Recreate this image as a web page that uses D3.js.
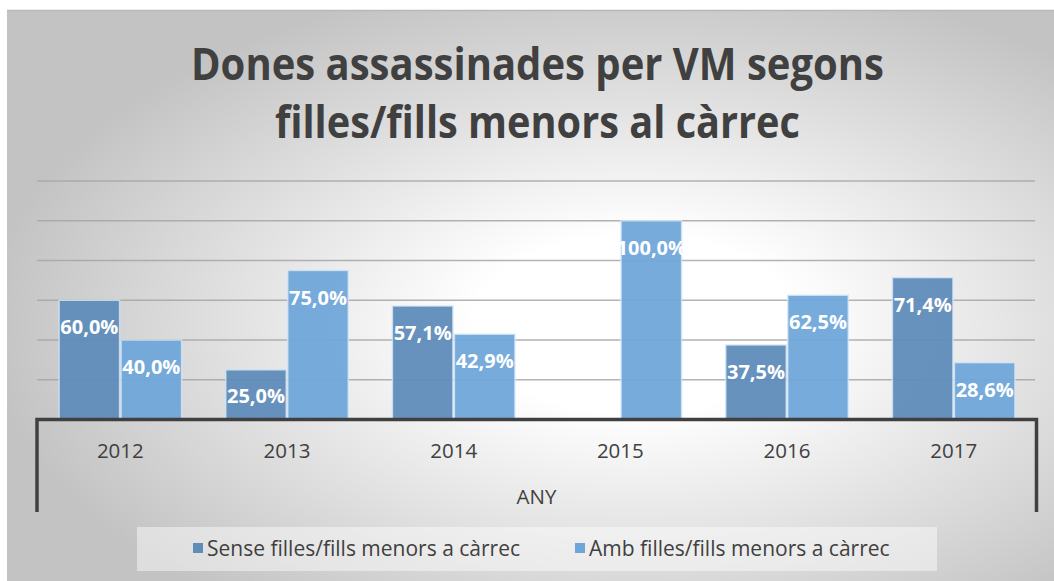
<!DOCTYPE html>
<html>
<head>
<meta charset="utf-8">
<script src="https://cdn.jsdelivr.net/npm/d3@7"></script>
<style>
  html, body { margin: 0; padding: 0; background: #ffffff; }
  svg { display: block; font-family: "Open Sans", "DejaVu Sans", sans-serif; }
</style>
</head>
<body>
<svg id="chart" width="1054" height="581"></svg>
<script>
const titleLines = ["Dones assassinades per VM segons", "filles/fills menors al càrrec"];
const categories = ["2012", "2013", "2014", "2015", "2016", "2017"];
const seriesNames = ["Sense filles/fills menors a càrrec", "Amb filles/fills menors a càrrec"];
const senseValues = [0.600, 0.250, 0.571, 0, 0.375, 0.714];
const ambValues = [0.400, 0.750, 0.429, 1.000, 0.625, 0.286];
const gridTicks = [0.2, 0.4, 0.6, 0.8, 1.0, 1.2];
const axisTitle = "ANY";
const seriesColors = ["#5f8cb9", "#6fa6da"];

const svg = d3.select("#chart");
const W = 1054, H = 581;

// background gradient
const defs = svg.append("defs");
const grad = defs.append("radialGradient")
  .attr("id", "bg").attr("gradientUnits", "objectBoundingBox")
  .attr("cx", 0.6).attr("cy", 0.55).attr("r", 0.62);
grad.append("stop").attr("offset", 0).attr("stop-color", "#ffffff");
grad.append("stop").attr("offset", 0.25).attr("stop-color", "#ffffff");
grad.append("stop").attr("offset", 1).attr("stop-color", "#c3c3c3");

svg.append("rect").attr("x", 7).attr("y", 10).attr("width", W - 7).attr("height", H - 10)
  .attr("fill", "url(#bg)");
svg.append("line").attr("x1", 7).attr("x2", W).attr("y1", 10.5).attr("y2", 10.5)
  .attr("stroke", "#b8b8b8").attr("stroke-width", 1.5);

// title
const titleY = [80, 138];
const titleW = [693, 525];
svg.append("g").selectAll("text").data(titleLines).join("text")
  .attr("x", 537.5).attr("y", (d, i) => titleY[i])
  .attr("text-anchor", "middle")
  .attr("font-size", 45).attr("font-weight", 700).attr("fill", "#404040")
  .attr("textLength", (d, i) => titleW[i]).attr("lengthAdjust", "spacingAndGlyphs")
  .text(d => d);

// scales
const plotLeft = 37, plotRight = 1037, baseY = 419.5, topY = 181;
const x0 = d3.scaleBand().domain(categories).range([plotLeft, plotRight])
  .paddingInner(0.256).paddingOuter(0.128);
const x1 = d3.scaleBand().domain([0, 1]).range([0, x0.bandwidth()]);
const y = d3.scaleLinear().domain([0, 1.2]).range([baseY, topY]);

// gridlines
svg.append("g").selectAll("line").data(gridTicks).join("line")
  .attr("x1", plotLeft).attr("x2", plotRight - 2)
  .attr("y1", d => y(d)).attr("y2", d => y(d))
  .attr("stroke", "#a6a6a6").attr("stroke-width", 1.5).attr("opacity", 0.85);

// bars
const data = [];
categories.forEach((c, i) => {
  data.push({ cat: c, s: 0, v: senseValues[i] });
  data.push({ cat: c, s: 1, v: ambValues[i] });
});
const fmt = d3.formatLocale({ decimal: ",", thousands: ".", grouping: [3], currency: ["", "€"], percent: "%" }).format(".1%");

const barData = data.filter(d => d.v > 0);
svg.append("g").selectAll("rect").data(barData).join("rect")
  .attr("x", d => x0(d.cat) + x1(d.s) + 0.75)
  .attr("width", x1.bandwidth() - 1.5)
  .attr("y", d => y(d.v))
  .attr("height", d => baseY - y(d.v))
  .attr("fill", d => seriesColors[d.s])
  .attr("fill-opacity", 0.95)
  .attr("stroke", "#d6e6f5").attr("stroke-width", 1.5).attr("stroke-opacity", 0.8);

svg.append("g").selectAll("text").data(barData).join("text")
  .attr("x", d => x0(d.cat) + x1(d.s) + x1.bandwidth() / 2)
  .attr("y", d => Math.min(y(d.v) + 27, baseY - 24))
  .attr("dy", "0.36em")
  .attr("text-anchor", "middle")
  .attr("font-size", 20).attr("font-weight", 700).attr("fill", "#ffffff")
  .text(d => fmt(d.v));

// axis frame
const axisG = svg.append("g").attr("stroke", "#404040").attr("stroke-width", 3.5).attr("fill", "none");
axisG.append("path")
  .attr("d", `M${plotLeft},512 V${baseY} H${plotRight - 0.5} V512`);

// category labels
svg.append("g").selectAll("text").data(categories).join("text")
  .attr("x", d => x0(d) + x0.bandwidth() / 2)
  .attr("y", 458)
  .attr("text-anchor", "middle")
  .attr("font-size", 20.5).attr("fill", "#404040")
  .text(d => d);

svg.append("text").attr("x", 536.5).attr("y", 504).attr("text-anchor", "middle")
  .attr("font-size", 20.5).attr("fill", "#404040").text(axisTitle);

// legend
svg.append("rect").attr("x", 137).attr("y", 527).attr("width", 800).attr("height", 44)
  .attr("fill", "#ffffff").attr("fill-opacity", 0.45);
const legX = [193, 575];
const leg = svg.append("g").selectAll("g").data(seriesNames).join("g")
  .attr("transform", (d, i) => `translate(${legX[i]},0)`);
leg.append("rect").attr("x", 0).attr("y", 543).attr("width", 10).attr("height", 10)
  .attr("fill", (d, i) => seriesColors[i]);
leg.append("text").attr("x", 14).attr("y", 556)
  .attr("font-size", 21).attr("fill", "#404040")
  .text(d => d);
</script>
</body>
</html>
